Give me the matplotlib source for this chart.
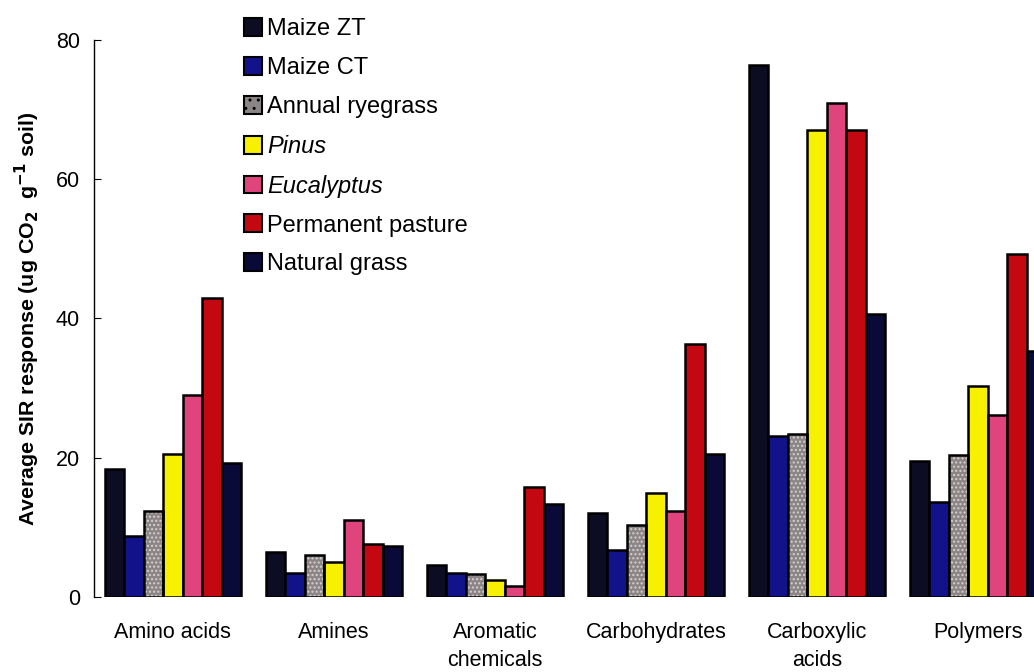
import numpy as np
import matplotlib
matplotlib.use("Agg")
import matplotlib.pyplot as plt

plt.rcParams['font.family'] = ['Liberation Sans', 'DejaVu Sans']

# Substrate groups and land-use treatments
categories = ["Amino acids", "Amines", "Aromatic\nchemicals", "Carbohydrates", "Carboxylic\nacids", "Polymers"]
treatments = ["Maize ZT", "Maize CT", "Annual ryegrass", "Pinus", "Eucalyptus", "Permanent pasture", "Natural grass"]

maize_zt = [18.4, 6.4, 4.6, 12.1, 76.4, 19.6]
maize_ct = [8.7, 3.4, 3.4, 6.8, 23.1, 13.7]
ryegrass = [12.4, 6.0, 3.3, 10.3, 23.4, 20.4]
pinus = [20.6, 5.0, 2.4, 14.9, 67.0, 30.3]
eucalyptus = [29.0, 11.0, 1.6, 12.3, 71.0, 26.1]
pasture = [43.0, 7.6, 15.8, 36.4, 67.0, 49.3]
natural_grass = [19.3, 7.3, 13.4, 20.6, 40.7, 35.4]

series = [maize_zt, maize_ct, ryegrass, pinus, eucalyptus, pasture, natural_grass]
colors = ["#0c0c22", "#12138a", "#8c8585", "#f7f000", "#e0447c", "#c40812", "#0a0a38"]

fig = plt.figure(figsize=(10.34, 6.72), dpi=100)
ax = fig.add_axes([0.0909, 0.1116, 0.9091, 0.8289])

x = np.arange(len(categories))
w = 0.121
handles = []
for i, (vals, col) in enumerate(zip(series, colors)):
    pos = x + (i - 3) * w
    if i == 2:
        # speckled grey fill, outline drawn separately
        ax.bar(pos, vals, w, color=col, edgecolor="#d8d0d0", hatch="....", linewidth=0, zorder=2)
        ax.bar(pos, vals, w, fill=False, edgecolor="black", linewidth=1.8, zorder=3)
        h = ax.bar([np.nan], [np.nan], color=col, edgecolor="black", hatch="..", linewidth=1.5)
    else:
        ax.bar(pos, vals, w, color=col, edgecolor="black", linewidth=1.8, zorder=2)
        h = ax.bar([np.nan], [np.nan], color=col, edgecolor="black", linewidth=1.5)
    handles.append(h)

ax.set_xlim(-0.49, 5.348)
ax.set_ylim(0, 80)
ax.set_yticks([0, 20, 40, 60, 80])
ax.tick_params(axis="y", direction="in", length=5, labelsize=15.5, pad=10)
ax.set_xticks(x)
ax.set_xticklabels(categories, fontsize=15.5, linespacing=1.45, va="top")
ax.tick_params(axis="x", length=0, pad=18)
for s in ["top", "right", "bottom"]:
    ax.spines[s].set_visible(False)
ax.spines["left"].set_linewidth(1.0)

ax.set_ylabel(r"Average SIR response (ug CO$_\mathbf{2}$  g$^\mathbf{-1}$ soil)",
              fontsize=15.4, fontweight="bold", labelpad=10)

leg = fig.legend(handles, treatments, loc="upper left", bbox_to_anchor=(0.221, 0.9955),
                 frameon=False, fontsize=17, handlelength=0.78, handleheight=0.78,
                 handletextpad=0.22, labelspacing=0.71, borderaxespad=0.25)
for t in leg.get_texts():
    if t.get_text() in ("Pinus", "Eucalyptus"):
        t.set_style("italic")

fig.savefig("out.png", dpi=100)
